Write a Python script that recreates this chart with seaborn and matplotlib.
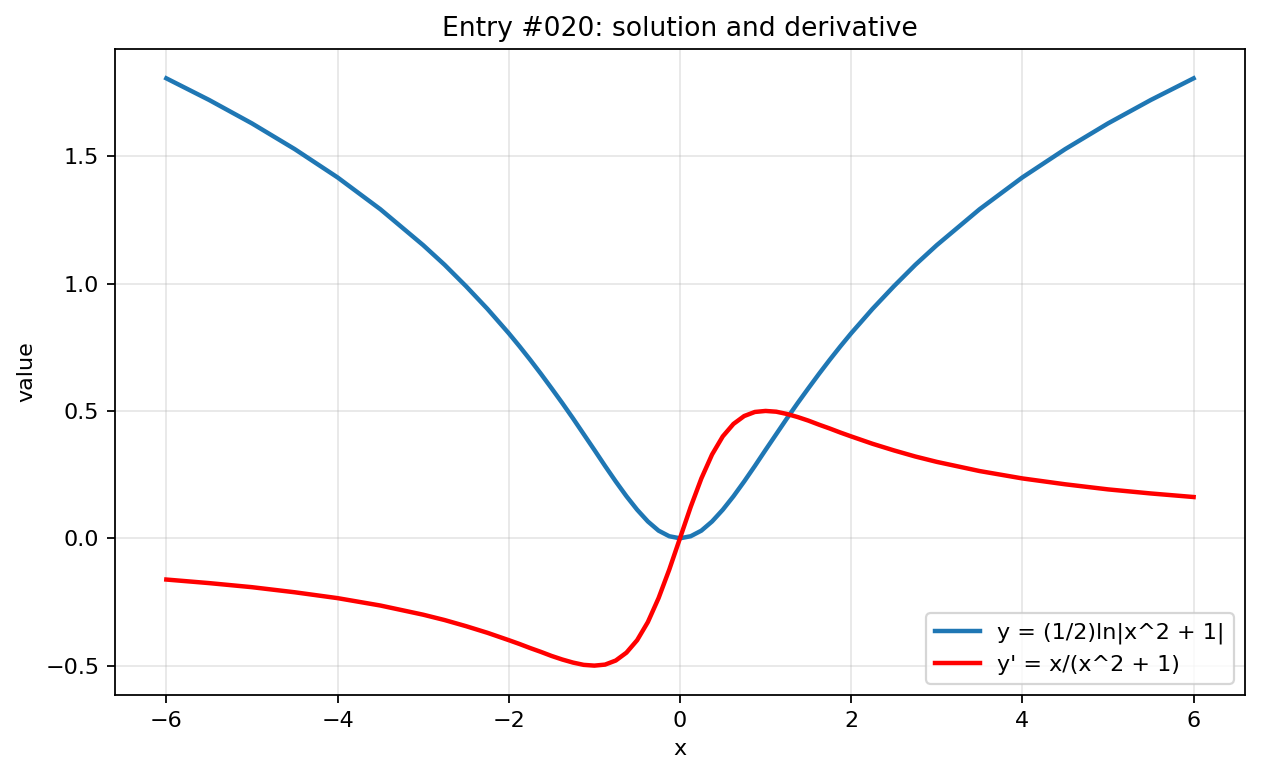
import numpy as np
import pandas as pd
import matplotlib
matplotlib.use("Agg")
import matplotlib.pyplot as plt
import seaborn as sns

# values (denser sampling near the centre)
x_vals = [-6, -5.5, -5, -4.5, -4, -3.5, -3, -2.75, -2.5, -2.25, -2, -1.875, -1.75,
          -1.625, -1.5, -1.375, -1.25, -1.125, -1, -0.875, -0.75, -0.625, -0.5,
          -0.375, -0.25, -0.125, 0, 0.125, 0.25, 0.375, 0.5, 0.625, 0.75, 0.875, 1,
          1.125, 1.25, 1.375, 1.5, 1.625, 1.75, 1.875, 2, 2.25, 2.5, 2.75, 3, 3.5,
          4, 4.5, 5, 5.5, 6]
y_vals = [1.806, 1.721, 1.629, 1.528, 1.417, 1.292, 1.151, 1.074, 0.990, 0.901,
          0.805, 0.754, 0.701, 0.646, 0.589, 0.531, 0.471, 0.409, 0.347, 0.284,
          0.223, 0.165, 0.112, 0.066, 0.030, 0.008, 0.0, 0.008, 0.030, 0.066, 0.112,
          0.165, 0.223, 0.284, 0.347, 0.409, 0.471, 0.531, 0.589, 0.646, 0.701,
          0.754, 0.805, 0.901, 0.990, 1.074, 1.151, 1.292, 1.417, 1.528, 1.629,
          1.721, 1.806]
dy_vals = [-0.162, -0.176, -0.192, -0.212, -0.235, -0.264, -0.300, -0.321, -0.345,
           -0.371, -0.400, -0.415, -0.431, -0.446, -0.462, -0.476, -0.488, -0.497,
           -0.500, -0.496, -0.480, -0.449, -0.400, -0.329, -0.235, -0.123, 0.0,
           0.123, 0.235, 0.329, 0.400, 0.449, 0.480, 0.496, 0.500, 0.497, 0.488,
           0.476, 0.462, 0.446, 0.431, 0.415, 0.400, 0.371, 0.345, 0.321, 0.300,
           0.264, 0.235, 0.212, 0.192, 0.176, 0.162]

df = pd.DataFrame({'x': x_vals, 'y': y_vals, 'dy': dy_vals})

fig = plt.figure(figsize=(7.8875, 4.85), dpi=160)
ax = fig.add_axes([0.0911, 0.1044, 0.8954, 0.8325])

sns.lineplot(data=df, x='x', y='y', color='#1f77b4', linewidth=2,
             label='y = (1/2)ln|x^2 + 1|', ax=ax, sort=False)
sns.lineplot(data=df, x='x', y='dy', color='red', linewidth=2,
             label="y' = x/(x^2 + 1)", ax=ax, sort=False)

ax.set_title('Entry #020: solution and derivative')
ax.set_xlabel('x')
ax.set_ylabel('value')
ax.set_xticks([-6, -4, -2, 0, 2, 4, 6])
ax.set_yticks([-0.5, 0.0, 0.5, 1.0, 1.5])
ax.grid(True, alpha=0.3)
ax.legend(loc='lower right')

fig.savefig('out.png', dpi=160)
